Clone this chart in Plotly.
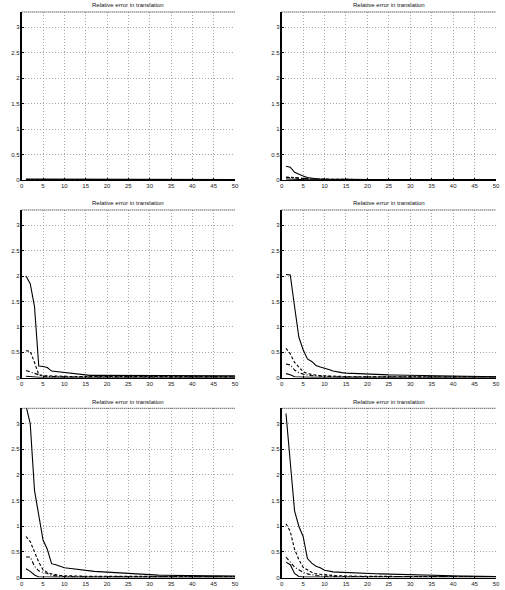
import plotly.graph_objects as go

x = list(range(1, 51))
titles = ["Relative error in translation"] * 6
xticks = [0, 5, 10, 15, 20, 25, 30, 35, 40, 45, 50]
yticks = [0, 0.5, 1, 1.5, 2, 2.5, 3]
yticklabels = ["0", "0.5", "1", "1.5", "2", "2.5", "3"]

# Panel 1 (top-left)
p1_solid = [0.02, 0.02, 0.015, 0.012, 0.01] + [0.01] * 45
p1_dash = [0.01, 0.01, 0.008, 0.006, 0.005] + [0.005] * 45
p1_dashdot = [0.008, 0.007, 0.006, 0.005, 0.004] + [0.004] * 45
p1_low = [0.004, 0.003, 0.003, 0.002, 0.002] + [0.002] * 45

# Panel 2 (top-right)
p2_solid = [0.27, 0.25, 0.15, 0.11, 0.08, 0.05, 0.035, 0.025, 0.02, 0.018,
            0.016, 0.015, 0.014, 0.013, 0.012, 0.012, 0.011, 0.011, 0.01, 0.01] + [0.01] * 30
p2_dash = [0.06, 0.05, 0.04, 0.035, 0.03, 0.025, 0.02, 0.018, 0.016, 0.014,
           0.012, 0.011, 0.01, 0.01, 0.009] + [0.008] * 35
p2_dashdot = [0.05, 0.045, 0.04, 0.03, 0.025, 0.02, 0.016, 0.014, 0.012, 0.01] + [0.008] * 40
p2_low = [0.02, 0.015, 0.01, 0.008, 0.006] + [0.005] * 45

# Panel 3 (middle-left)
p3_solid = [2.0, 1.85, 1.4, 0.23, 0.22, 0.2, 0.13, 0.12, 0.12, 0.11,
            0.09, 0.09, 0.08, 0.07, 0.05, 0.045, 0.045, 0.045, 0.045, 0.045,
            0.045, 0.045, 0.045, 0.045, 0.045, 0.045, 0.045, 0.045, 0.045, 0.045,
            0.045, 0.045, 0.04, 0.04, 0.04, 0.04, 0.04, 0.04, 0.04, 0.04,
            0.035, 0.035, 0.035, 0.035, 0.035, 0.035, 0.035, 0.035, 0.035, 0.035]
p3_dash = [0.53, 0.52, 0.3, 0.06, 0.04, 0.035, 0.03, 0.03, 0.03, 0.03,
           0.025, 0.025, 0.025, 0.025, 0.02] + [0.02] * 35
p3_dashdot = [0.14, 0.11, 0.08, 0.05, 0.03, 0.025, 0.02, 0.02, 0.02, 0.02] + [0.015] * 40
p3_low = [0.03, 0.02, 0.015, 0.01, 0.01] + [0.01] * 45

# Panel 4 (middle-right)
p4_solid = [2.03, 2.02, 1.4, 0.8, 0.55, 0.37, 0.32, 0.24, 0.21, 0.19,
            0.16, 0.13, 0.11, 0.1, 0.09, 0.085, 0.08, 0.075, 0.07, 0.065,
            0.062, 0.06, 0.058, 0.056, 0.055, 0.054, 0.053, 0.052, 0.051, 0.05,
            0.048, 0.046, 0.044, 0.042, 0.04, 0.038, 0.036, 0.034, 0.032, 0.03,
            0.03, 0.029, 0.028, 0.027, 0.026, 0.025, 0.024, 0.023, 0.022, 0.02]
p4_dash = [0.58, 0.47, 0.3, 0.2, 0.12, 0.08, 0.06, 0.05, 0.04, 0.035,
           0.03, 0.028, 0.026, 0.024, 0.022, 0.02, 0.02, 0.02, 0.02, 0.02] + [0.018] * 30
p4_dashdot = [0.27, 0.25, 0.15, 0.1, 0.07, 0.05, 0.04, 0.035, 0.03, 0.025,
              0.02, 0.02, 0.018, 0.016, 0.015] + [0.015] * 35
p4_low = [0.08, 0.06, 0.02, 0.015, 0.01] + [0.01] * 45

# Panel 5 (bottom-left)
p5_solid = [3.35, 3.0, 1.7, 1.25, 0.73, 0.55, 0.27, 0.25, 0.22, 0.19,
            0.18, 0.17, 0.16, 0.15, 0.13, 0.125, 0.12, 0.115, 0.11, 0.1,
            0.095, 0.09, 0.085, 0.08, 0.07, 0.068, 0.065, 0.06, 0.055, 0.05,
            0.048, 0.046, 0.044, 0.042, 0.04, 0.039, 0.038, 0.037, 0.036, 0.035,
            0.034, 0.034, 0.033, 0.033, 0.032, 0.032, 0.031, 0.031, 0.03, 0.03]
p5_dash = [0.8, 0.7, 0.5, 0.3, 0.15, 0.1, 0.07, 0.05, 0.04, 0.035,
           0.03, 0.03, 0.028, 0.026, 0.025, 0.024, 0.023, 0.022, 0.021, 0.02] + [0.02] * 30
p5_dashdot = [0.4, 0.4, 0.22, 0.13, 0.1, 0.08, 0.04, 0.03, 0.025, 0.02] + [0.015] * 40
p5_low = [0.17, 0.12, 0.05, 0.01, 0.01] + [0.008] * 45

# Panel 6 (bottom-right)
p6_solid = [3.2, 2.3, 1.3, 1.0, 0.8, 0.37, 0.28, 0.22, 0.19, 0.14,
            0.12, 0.11, 0.105, 0.1, 0.095, 0.09, 0.088, 0.085, 0.082, 0.08,
            0.077, 0.074, 0.071, 0.068, 0.065, 0.062, 0.06, 0.057, 0.054, 0.05,
            0.048, 0.046, 0.044, 0.042, 0.04, 0.038, 0.036, 0.034, 0.032, 0.03,
            0.029, 0.028, 0.027, 0.026, 0.025, 0.024, 0.023, 0.022, 0.021, 0.02]
p6_dash = [1.05, 0.9, 0.55, 0.35, 0.2, 0.15, 0.1, 0.07, 0.06, 0.05,
           0.045, 0.04, 0.035, 0.03, 0.03, 0.028, 0.026, 0.025, 0.024, 0.022] + [0.02] * 30
p6_dashdot = [0.4, 0.3, 0.2, 0.15, 0.1, 0.07, 0.05, 0.04, 0.03, 0.025] + [0.02] * 40
p6_low = [0.3, 0.25, 0.08, 0.02, 0.01] + [0.01] * 45

panels = [
    (p1_solid, p1_dash, p1_dashdot, p1_low),
    (p2_solid, p2_dash, p2_dashdot, p2_low),
    (p3_solid, p3_dash, p3_dashdot, p3_low),
    (p4_solid, p4_dash, p4_dashdot, p4_low),
    (p5_solid, p5_dash, p5_dashdot, p5_low),
    (p6_solid, p6_dash, p6_dashdot, p6_low),
]

W, H = 505, 590
col_px = [(21.7, 235.0), (281.7, 496.0)]
row_px = [(12.0, 180.0), (210.0, 377.7), (408.3, 577.5)]

fig = go.Figure()
layout = dict(
    template="none",
    width=W, height=H, margin=dict(l=0, r=0, t=0, b=0),
    paper_bgcolor="white", plot_bgcolor="white", showlegend=False,
    font=dict(family="Liberation Sans, Arial, sans-serif", size=6, color="#222222"),
)
annotations = []
shapes = []
dashes = ["solid", "3px,2px", "4px,2px,1px,2px", "solid"]
tickfont = dict(family="Liberation Sans, Arial, sans-serif", size=6, color="#222222")

for i, series in enumerate(panels):
    r, c = divmod(i, 2)
    n = i + 1
    xa = "x" if n == 1 else f"x{n}"
    ya = "y" if n == 1 else f"y{n}"
    for s, d in zip(series, dashes):
        fig.add_trace(go.Scatter(x=x, y=s, mode="lines", xaxis=xa, yaxis=ya,
                                 line=dict(color="black", width=1.1, dash=d),
                                 cliponaxis=True, hoverinfo="skip"))
    x0, x1 = col_px[c]
    y0, y1 = row_px[r]
    xd = [x0 / W, x1 / W]
    yd = [1 - y1 / H, 1 - y0 / H]
    key_x = "xaxis" if n == 1 else f"xaxis{n}"
    key_y = "yaxis" if n == 1 else f"yaxis{n}"
    layout[key_x] = dict(domain=xd, anchor=ya, range=[0, 50], tickmode="array",
                         tickvals=xticks, ticktext=[str(t) for t in xticks],
                         showgrid=True, gridcolor="#a8a8a8", griddash="1px,2px", gridwidth=1,
                         showline=True, linecolor="black", linewidth=1,
                         ticks="inside", ticklen=2, tickcolor="black",
                         tickfont=tickfont, zeroline=False,
                         ticklabeloverflow="allow", automargin=False,
                         fixedrange=True)
    layout[key_y] = dict(domain=yd, anchor=xa, range=[0, 3.3], tickmode="array",
                         tickvals=yticks, ticktext=yticklabels,
                         showgrid=True, gridcolor="#a8a8a8", griddash="1px,2px", gridwidth=1,
                         showline=True, linecolor="black", linewidth=2,
                         ticks="inside", ticklen=2, tickcolor="black",
                         tickfont=tickfont, zeroline=False, ticklabelstandoff=-1,
                         ticklabeloverflow="allow", automargin=False,
                         fixedrange=True)
    shapes.append(dict(type="line", xref="paper", yref="paper",
                       x0=xd[0], x1=xd[1], y0=yd[1], y1=yd[1],
                       line=dict(color="#222222", width=1, dash="1px,1px")))
    annotations.append(dict(text=titles[i], xref="paper", yref="paper",
                            x=(xd[0] + xd[1]) / 2, y=yd[1] + 1.5 / H,
                            xanchor="center", yanchor="bottom", showarrow=False,
                            font=dict(family="Liberation Sans, Arial, sans-serif",
                                      size=6, color="#111111")))

layout["annotations"] = annotations
layout["shapes"] = shapes
fig.update_layout(**layout)
fig.write_html("out.html", config={"displayModeBar": False},
               post_script="document.body.style.margin='0px';document.body.style.overflow='hidden';")
